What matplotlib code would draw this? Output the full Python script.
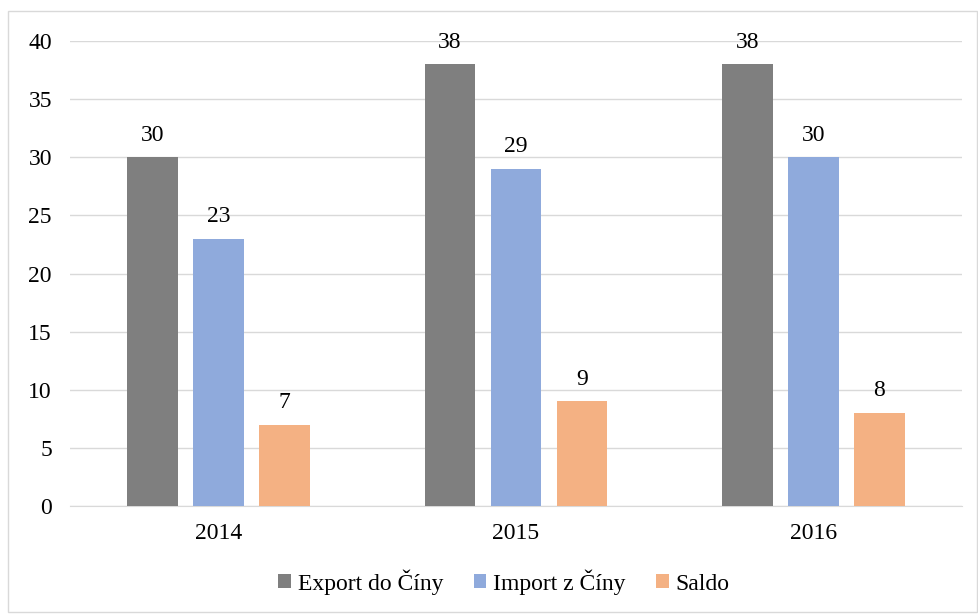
import matplotlib.pyplot as plt
from matplotlib.patches import Rectangle
import numpy as np

years = ['2014', '2015', '2016']
export_cn = [30, 38, 38]
import_cn = [23, 29, 30]
saldo = [7, 9, 8]
series_names = ['Export do Číny', 'Import z Číny', 'Saldo']
colors = ['#7f7f7f', '#8faadc', '#f4b183']

plt.rcParams['font.family'] = ['Liberation Serif', 'DejaVu Serif']
plt.rcParams['font.size'] = 17

fig = plt.figure(figsize=(9.79, 6.15), dpi=100)
W, H = 979, 615
ax = fig.add_axes([70 / W, 1 - 506 / H, (962 - 70) / W, (506 - 41) / H])

# border around the whole chart
fig.patches.append(Rectangle((8 / W, 1 - 612 / H), (977 - 8) / W, (612 - 11) / H,
                             transform=fig.transFigure, fill=False,
                             edgecolor='#d9d9d9', linewidth=1))

x = np.arange(len(years))
width = 0.171
step = 0.222
for i, (vals, name, c) in enumerate(zip([export_cn, import_cn, saldo], series_names, colors)):
    pos = x + (i - 1) * step
    ax.bar(pos, vals, width, color=c, label=name, zorder=3)
    for p, v in zip(pos, vals):
        ax.text(p, v + 1.0, str(v), ha='center', va='bottom', color='#000000')

ax.set_xlim(-0.5, 2.5)
ax.set_ylim(0, 40)
ax.set_yticks(range(0, 41, 5))
ax.set_xticks(x)
ax.set_xticklabels(years)
ax.yaxis.grid(True, color='#d9d9d9', linewidth=1, zorder=0)
for s in ['top', 'right', 'left']:
    ax.spines[s].set_visible(False)
ax.spines['bottom'].set_color('#d9d9d9')
ax.tick_params(axis='both', length=0)
ax.tick_params(axis='y', pad=13)
ax.tick_params(axis='x', pad=12)

handles, labels = ax.get_legend_handles_labels()
fig.legend(handles, labels, loc='center', bbox_to_anchor=(504 / W, 1 - 582 / H), ncol=3,
           frameon=False, handlelength=0.52, handleheight=0.52, handletextpad=0.3,
           columnspacing=1.3)

fig.savefig('out.png', dpi=100)
